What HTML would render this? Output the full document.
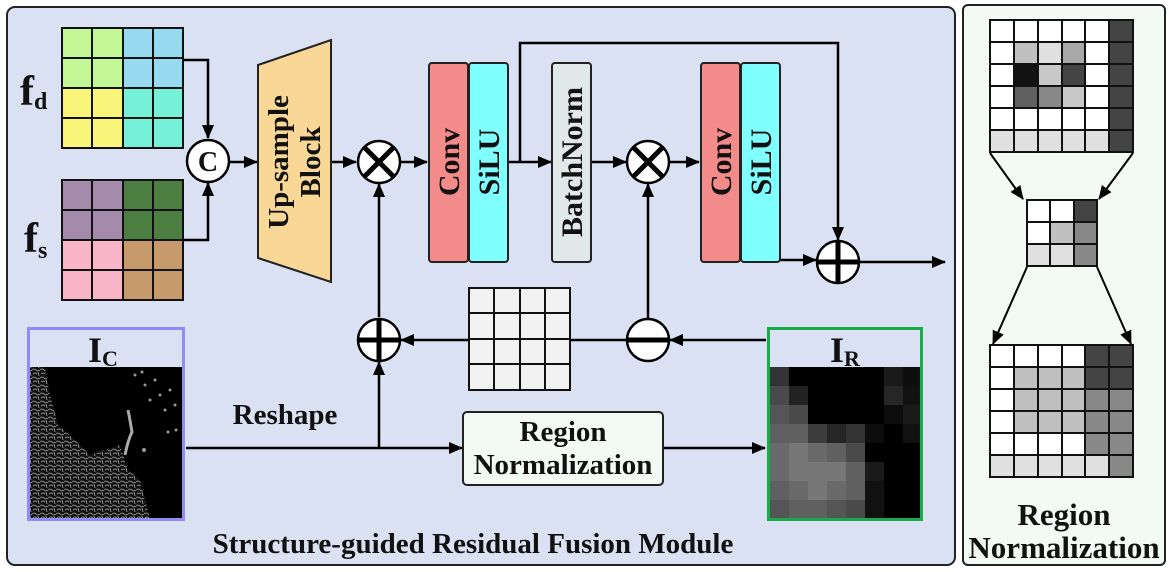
<!DOCTYPE html>
<html><head><meta charset="utf-8"><style>
html,body{margin:0;padding:0;background:#fff;}
svg{display:block;}
text{font-family:"Liberation Serif",serif;font-weight:bold;fill:#111;}
</style></head><body>
<svg width="1170" height="572" viewBox="0 0 1170 572" xmlns="http://www.w3.org/2000/svg">
<defs>
<marker id="ah" markerWidth="14" markerHeight="12" refX="13" refY="6" orient="auto" markerUnits="userSpaceOnUse">
<path d="M0,0 L14,6 L0,12 z" fill="#000"/></marker>
<pattern id="tex" width="8" height="8" patternUnits="userSpaceOnUse">
<rect width="8" height="8" fill="#111"/>
<path d="M0,2 Q2,0 4,2 T8,2 M1,6 Q3,4 5,6 M6,4 L7,8" stroke="#aaa" stroke-width="0.8" fill="none"/>
</pattern>
</defs>
<rect x="7" y="7" width="948" height="558" rx="8" fill="#dae1f3" stroke="#222" stroke-width="2"/>
<rect x="963" y="5" width="202" height="560" rx="5" fill="#f3faf3" stroke="#222" stroke-width="2"/>

<g stroke="#111" stroke-width="2">
<rect x="62" y="28" width="61" height="60" fill="#c3f796"/>
<rect x="123" y="28" width="60" height="60" fill="#97d9ee"/>
<rect x="62" y="88" width="61" height="60" fill="#f8f57a"/>
<rect x="123" y="88" width="60" height="60" fill="#77f0d8"/>
<path d="M92,28V148M153,28V148M62,58H183M62,118H183M123,28V148M62,88H183" fill="none"/>
<rect x="62" y="180" width="61" height="60" fill="#a48bab"/>
<rect x="123" y="180" width="60" height="60" fill="#4c7f41"/>
<rect x="62" y="240" width="61" height="60" fill="#f8b5c8"/>
<rect x="123" y="240" width="60" height="60" fill="#c69a6a"/>
<path d="M92,180V300M153,180V300M62,210H183M62,270H183M123,180V300M62,240H183" fill="none"/>
</g>
<text x="20" y="105" font-size="42">f<tspan font-size="24" dy="4">d</tspan></text>
<text x="24" y="252" font-size="42">f<tspan font-size="24" dy="6">s</tspan></text>

<g stroke="#000" stroke-width="2.5" fill="none">
<path d="M183,60H208V138" marker-end="url(#ah)"/>
<path d="M183,240H208V183" marker-end="url(#ah)"/>
<path d="M230,162H257" marker-end="url(#ah)"/>
<path d="M332,162H356" marker-end="url(#ah)"/>
<path d="M400,162H427" marker-end="url(#ah)"/>
<path d="M508,162H551" marker-end="url(#ah)"/>
<path d="M520,162V43H838V240" marker-end="url(#ah)"/>
<path d="M592,162H626" marker-end="url(#ah)"/>
<path d="M670,162H699" marker-end="url(#ah)"/>
<path d="M780,260H816" marker-end="url(#ah)"/>
<path d="M860,262H945" marker-end="url(#ah)"/>
<path d="M648,318V184" marker-end="url(#ah)"/>
<path d="M379,317V184" marker-end="url(#ah)"/>
<path d="M627,340H401" marker-end="url(#ah)"/>
<path d="M766,340H670" marker-end="url(#ah)"/>
<path d="M186,448H462" marker-end="url(#ah)"/>
<path d="M379,448V362" marker-end="url(#ah)"/>
<path d="M664,448H765" marker-end="url(#ah)"/>
</g>

<circle cx="208" cy="161" r="21" fill="#fff" stroke="#000" stroke-width="2.5"/>
<text x="208" y="171" font-size="28" text-anchor="middle">C</text>

<polygon points="258,65 331,40 331,282 258,258" fill="#f8d797" stroke="#222" stroke-width="2"/>
<text transform="translate(288,162) rotate(-90)" font-size="29" text-anchor="middle">Up-sample</text>
<text transform="translate(320,162) rotate(-90)" font-size="29" text-anchor="middle">Block</text>

<g stroke="#000" fill="#fff">
<circle cx="379" cy="162" r="21" stroke-width="2.5"/>
<path d="M364,147L394,177M394,147L364,177" stroke-width="5"/>
<circle cx="648" cy="162" r="21" stroke-width="2.5"/>
<path d="M633,147L663,177M663,147L633,177" stroke-width="5"/>
<circle cx="838" cy="262" r="21" stroke-width="2.5"/>
<path d="M817,262H859M838,241V283" stroke-width="5"/>
<circle cx="379" cy="340" r="21" stroke-width="2.5"/>
<path d="M358,340H400M379,319V361" stroke-width="5"/>
<circle cx="648" cy="340" r="21" stroke-width="2.5"/>
<path d="M627,340H669" stroke-width="5"/>
</g>

<g stroke="#222" stroke-width="2">
<rect x="429" y="63" width="39" height="199" rx="3" fill="#f28b89"/>
<rect x="469" y="63" width="39" height="199" rx="3" fill="#80ffff"/>
<rect x="552" y="63" width="39" height="199" rx="3" fill="#e1e8ea"/>
<rect x="701" y="63" width="39" height="199" rx="3" fill="#f28b89"/>
<rect x="741" y="63" width="39" height="199" rx="3" fill="#80ffff"/>
</g>
<g font-size="30">
<text transform="translate(459,162) rotate(-90)" text-anchor="middle">Conv</text>
<text transform="translate(499,162) rotate(-90)" text-anchor="middle">SiLU</text>
<text transform="translate(582,162) rotate(-90)" text-anchor="middle">BatchNorm</text>
<text transform="translate(731,162) rotate(-90)" text-anchor="middle">Conv</text>
<text transform="translate(771,162) rotate(-90)" text-anchor="middle">SiLU</text>
</g>

<g stroke="#111" stroke-width="2" fill="#f2f2f2">
<rect x="469" y="288" width="101" height="102"/>
<path d="M494,288V390M520,288V390M545,288V390M469,313H570M469,339H570M469,364H570" fill="none"/>
</g>

<rect x="28.5" y="328.5" width="155" height="191" fill="#dae1f3" stroke="#8f8cf8" stroke-width="3"/>
<rect x="30" y="367" width="152" height="151" fill="#000"/>
<polygon points="30,367 45,367 50,395 58,425 75,440 90,455 105,450 120,445 128,470 140,480 145,500 150,518 30,518" fill="url(#tex)"/>
<path d="M125,455 Q128,440 132,432 Q130,420 128,410" stroke="#aaa" stroke-width="3" fill="none"/>
<g fill="#999"><circle cx="135" cy="375" r="1.5"/><circle cx="145" cy="385" r="1.5"/><circle cx="155" cy="380" r="1.5"/><circle cx="160" cy="395" r="1.5"/><circle cx="170" cy="390" r="1.5"/><circle cx="150" cy="400" r="1.5"/><circle cx="165" cy="410" r="1.5"/><circle cx="175" cy="405" r="1.5"/><circle cx="142" cy="372" r="1.5"/><circle cx="176" cy="430" r="1.5"/><circle cx="168" cy="432" r="1.5"/><circle cx="144" cy="450" r="2"/></g>
<text x="88" y="362" font-size="36">I<tspan font-size="22" dy="4">C</tspan></text>

<rect x="768.5" y="328.5" width="153" height="191" fill="#dae1f3" stroke="#1aaa4a" stroke-width="3"/>
<rect x="770" y="367" width="150" height="151" fill="#000"/>
<g>
<rect x="770" y="367" width="19" height="19" fill="#333"/><rect x="884" y="367" width="19" height="19" fill="#1a1a1a"/><rect x="903" y="367" width="17" height="19" fill="#0d0d0d"/>
<rect x="770" y="386" width="19" height="19" fill="#4a4a4a"/><rect x="789" y="386" width="19" height="19" fill="#222"/><rect x="884" y="386" width="19" height="19" fill="#262626"/><rect x="903" y="386" width="17" height="19" fill="#111"/>
<rect x="770" y="405" width="19" height="19" fill="#555"/><rect x="789" y="405" width="19" height="19" fill="#4a4a4a"/><rect x="884" y="405" width="19" height="19" fill="#0d0d0d"/><rect x="903" y="405" width="17" height="19" fill="#1a1a1a"/>
<rect x="770" y="424" width="19" height="19" fill="#606060"/><rect x="789" y="424" width="19" height="19" fill="#606060"/><rect x="808" y="424" width="19" height="19" fill="#3c3c3c"/><rect x="827" y="424" width="19" height="19" fill="#262626"/><rect x="846" y="424" width="19" height="19" fill="#333"/><rect x="865" y="424" width="19" height="19" fill="#0d0d0d"/><rect x="903" y="424" width="17" height="19" fill="#111"/>
<rect x="770" y="443" width="19" height="19" fill="#6a6a6a"/><rect x="789" y="443" width="19" height="19" fill="#777"/><rect x="808" y="443" width="19" height="19" fill="#6a6a6a"/><rect x="827" y="443" width="19" height="19" fill="#606060"/><rect x="846" y="443" width="19" height="19" fill="#4a4a4a"/>
<rect x="770" y="462" width="19" height="19" fill="#6a6a6a"/><rect x="789" y="462" width="19" height="19" fill="#777"/><rect x="808" y="462" width="19" height="19" fill="#777"/><rect x="827" y="462" width="19" height="19" fill="#777"/><rect x="846" y="462" width="19" height="19" fill="#606060"/><rect x="865" y="462" width="19" height="19" fill="#1a1a1a"/>
<rect x="770" y="481" width="19" height="19" fill="#606060"/><rect x="789" y="481" width="19" height="19" fill="#6a6a6a"/><rect x="808" y="481" width="19" height="19" fill="#777"/><rect x="827" y="481" width="19" height="19" fill="#6a6a6a"/><rect x="846" y="481" width="19" height="19" fill="#606060"/><rect x="865" y="481" width="19" height="19" fill="#111"/>
<rect x="770" y="500" width="19" height="18" fill="#555"/><rect x="789" y="500" width="19" height="18" fill="#606060"/><rect x="808" y="500" width="19" height="18" fill="#606060"/><rect x="827" y="500" width="19" height="18" fill="#555"/><rect x="846" y="500" width="19" height="18" fill="#4a4a4a"/><rect x="865" y="500" width="19" height="18" fill="#111"/>
</g>
<text x="830" y="362" font-size="36">I<tspan font-size="22" dy="4">R</tspan></text>

<rect x="463" y="412" width="200" height="73" rx="4" fill="#f3faf3" stroke="#222" stroke-width="2"/>
<text x="563" y="441" font-size="29" text-anchor="middle">Region</text>
<text x="563" y="474" font-size="29" text-anchor="middle">Normalization</text>

<text x="285" y="424" font-size="29" text-anchor="middle">Reshape</text>
<text x="473" y="553" font-size="29" text-anchor="middle">Structure-guided Residual Fusion Module</text>

<g stroke="#111" stroke-width="2">
<rect x="990" y="20" width="143" height="132" fill="#fff"/>
<rect x="1109" y="20" width="24" height="132" fill="#444"/>
<rect x="990" y="130" width="119" height="22" fill="#e0e0e0"/>
<rect x="1014" y="42" width="24" height="22" fill="#c0c0c0"/>
<rect x="1038" y="42" width="24" height="22" fill="#e0e0e0"/>
<rect x="1062" y="42" width="23" height="22" fill="#a8a8a8"/>
<rect x="1014" y="64" width="24" height="22" fill="#111"/>
<rect x="1038" y="64" width="24" height="22" fill="#c8c8c8"/>
<rect x="1062" y="64" width="23" height="22" fill="#444"/>
<rect x="1014" y="86" width="24" height="22" fill="#606060"/>
<rect x="1038" y="86" width="24" height="22" fill="#888"/>
<rect x="1062" y="86" width="23" height="22" fill="#c8c8c8"/>
<path d="M1014,20V152M1038,20V152M1062,20V152M1085,20V152M1109,20V152M990,42H1133M990,64H1133M990,86H1133M990,108H1133M990,130H1133" fill="none"/>
<rect x="1027" y="200" width="70" height="66" fill="#fff"/>
<rect x="1074" y="200" width="23" height="22" fill="#444"/>
<rect x="1050" y="222" width="24" height="22" fill="#c0c0c0"/>
<rect x="1074" y="222" width="23" height="44" fill="#888"/>
<rect x="1027" y="244" width="47" height="22" fill="#e0e0e0"/>
<path d="M1050,200V266M1074,200V266M1027,222H1097M1027,244H1097" fill="none"/>
<rect x="990" y="345" width="143" height="132" fill="#fff"/>
<rect x="1014" y="367" width="71" height="66" fill="#c0c0c0"/>
<rect x="1085" y="345" width="48" height="44" fill="#444"/>
<rect x="1085" y="389" width="48" height="88" fill="#888"/>
<rect x="990" y="455" width="119" height="22" fill="#e0e0e0"/>
<path d="M1014,345V477M1038,345V477M1062,345V477M1085,345V477M1109,345V477M990,367H1133M990,389H1133M990,411H1133M990,433H1133M990,455H1133" fill="none"/>
</g>
<g stroke="#000" stroke-width="2" fill="none">
<path d="M990,153L1023,199" marker-end="url(#ah)"/>
<path d="M1133,153L1099,199" marker-end="url(#ah)"/>
<path d="M1027,267L993,344" marker-end="url(#ah)"/>
<path d="M1097,267L1131,344" marker-end="url(#ah)"/>
</g>
<text x="1064" y="525" font-size="31" text-anchor="middle">Region</text>
<text x="1064" y="558" font-size="31" text-anchor="middle">Normalization</text>
</svg>
</body></html>
